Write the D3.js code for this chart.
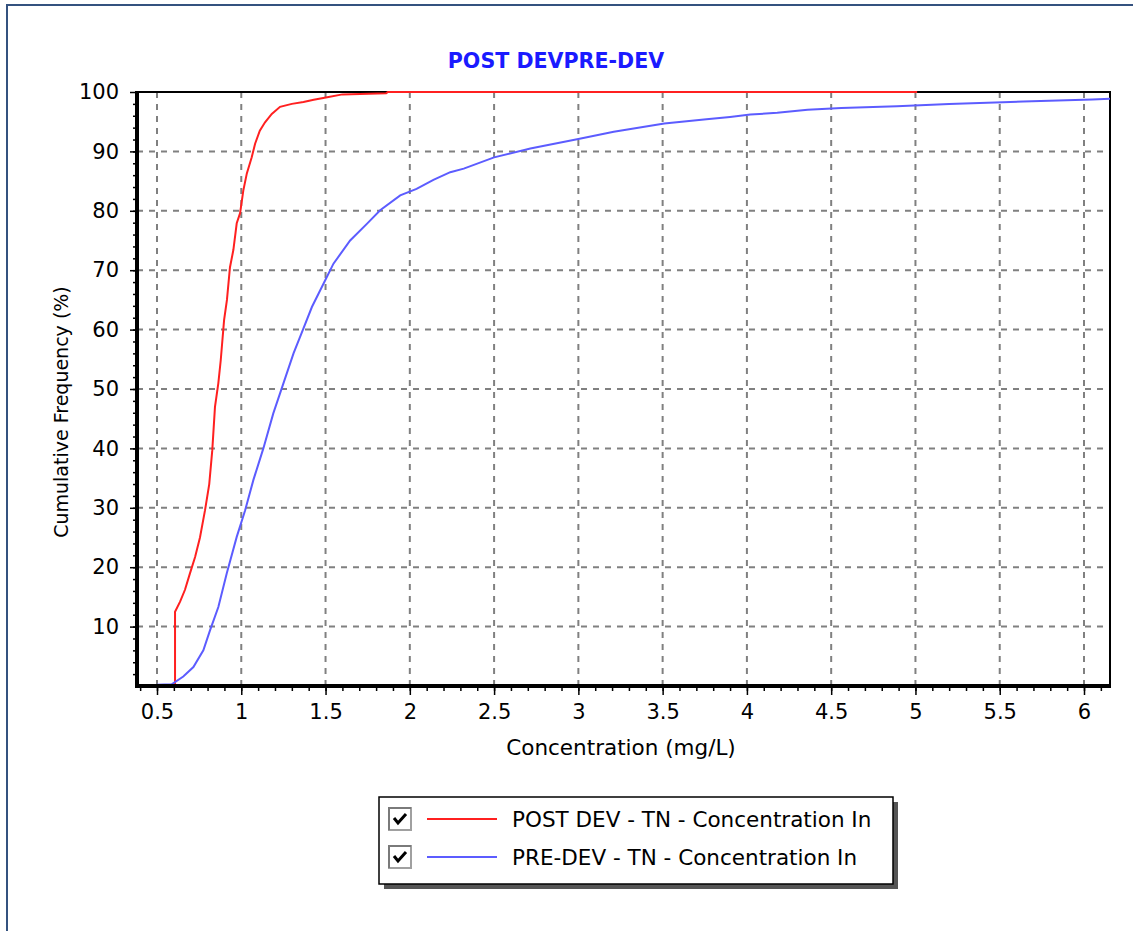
<!DOCTYPE html>
<html>
<head>
<meta charset="utf-8">
<script src="https://cdn.jsdelivr.net/npm/d3@7/dist/d3.min.js"></script>
<style>
	body { margin: 0; background: #fff; }
	svg { display: block; font-family: "DejaVu Sans", sans-serif; }
</style>
</head>
<body>
<svg id="chart" width="1133" height="931"></svg>
<script>
// chart values
var chartTitle = "POST DEVPRE-DEV";
var xLabel = "Concentration (mg/L)";
var yLabel = "Cumulative Frequency (%)";
var seriesNames = ["POST DEV - TN - Concentration In", "PRE-DEV - TN - Concentration In"];
var seriesColors = ["#ff2020", "#5c5cff"];

var xTicks = [0.5, 1, 1.5, 2, 2.5, 3, 3.5, 4, 4.5, 5, 5.5, 6];
var yTicks = [10, 20, 30, 40, 50, 60, 70, 80, 90, 100];

// POST DEV : [concentration, cumulative %]
var postDev = [
	[0.607, 0], [0.607, 12.5], [0.637, 14.2], [0.666, 16.2], [0.696, 19], [0.726, 21.7],
	[0.755, 25], [0.785, 29.6], [0.81, 34], [0.828, 39.7], [0.844, 47], [0.864, 51],
	[0.878, 54.8], [0.898, 61.6], [0.915, 65], [0.933, 70.5], [0.953, 73.4], [0.973, 77.9],
	[0.993, 79.6], [1.012, 83.4], [1.033, 86.3], [1.062, 89], [1.082, 91.3], [1.11, 93.5],
	[1.141, 94.9], [1.181, 96.3], [1.23, 97.5], [1.30, 98], [1.369, 98.3], [1.43, 98.7],
	[1.51, 99.1], [1.60, 99.6], [1.86, 99.8], [1.87, 100], [5.01, 100]
];

// PRE-DEV : [concentration, cumulative %]
var preDev = [
	[0.5, 0.2], [0.587, 0.3], [0.656, 1.6], [0.716, 3.2], [0.775, 6], [0.815, 9.4],
	[0.864, 13.3], [0.914, 19], [0.973, 25.1], [1.023, 29.6], [1.072, 34.7], [1.131, 40],
	[1.19, 45.9], [1.24, 50.1], [1.31, 56], [1.369, 60.2], [1.419, 63.8], [1.498, 68.3],
	[1.547, 71.1], [1.646, 75], [1.745, 77.8], [1.824, 80.1], [1.943, 82.6], [2.04, 83.7],
	[2.14, 85.2], [2.24, 86.5], [2.32, 87.1], [2.50, 89], [2.715, 90.5], [3.0, 92.1],
	[3.21, 93.3], [3.51, 94.7], [3.76, 95.4], [3.90, 95.8], [4.02, 96.2], [4.18, 96.5],
	[4.36, 97], [4.56, 97.3], [4.89, 97.6], [5.20, 98], [5.64, 98.4], [6.05, 98.75], [6.2, 98.9]
];

var series = [postDev, preDev];

var svg = d3.select("#chart");
var plot = { left: 137, top: 92, right: 1110, bottom: 686 };

// outer frame
svg.append("path")
	.attr("d", "M7,931V5H1133")
	.attr("fill", "none")
	.attr("stroke", "#34527f")
	.attr("stroke-width", 2);

var x = d3.scaleLinear()
	.domain([0.5 - 20 / 168.55, 6 + 26 / 168.55])
	.range([plot.left, plot.right]);

var y = d3.scaleLinear()
	.domain([0, 100])
	.range([plot.bottom, plot.top]);

// grid
var grid = svg.append("g")
	.attr("stroke", "#808080")
	.attr("stroke-width", 2)
	.attr("stroke-dasharray", "6,6");

grid.selectAll(".vgrid")
	.data(xTicks)
	.enter().append("line")
	.attr("x1", x).attr("x2", x)
	.attr("y1", plot.top).attr("y2", plot.bottom);

grid.selectAll(".hgrid")
	.data(yTicks.filter(function(d){ return d < 100; }))
	.enter().append("line")
	.attr("x1", plot.left).attr("x2", plot.right)
	.attr("y1", y).attr("y2", y);

// minor ticks
var xMinor = d3.range(4, 62).map(function(i){ return i / 10; })
	.filter(function(d){ return x(d) >= plot.left && x(d) <= plot.right; });
var yMinor = d3.range(2, 100, 2);

svg.append("g")
	.attr("transform", "translate(0," + plot.bottom + ")")
	.call(d3.axisBottom(x).tickValues(xMinor).tickSize(5).tickFormat(""))
	.call(function(g){ g.select(".domain").remove(); })
	.selectAll("line").attr("stroke", "#000").attr("stroke-width", 1.5);

svg.append("g")
	.attr("transform", "translate(" + plot.left + ",0)")
	.call(d3.axisLeft(y).tickValues(yMinor).tickSize(4).tickFormat(""))
	.call(function(g){ g.select(".domain").remove(); })
	.selectAll("line").attr("stroke", "#000").attr("stroke-width", 1.5);

// major ticks + labels
var xAxis = svg.append("g")
	.attr("transform", "translate(0," + plot.bottom + ")")
	.call(d3.axisBottom(x).tickValues(xTicks).tickSize(9).tickPadding(9).tickFormat(d3.format("")));
xAxis.select(".domain").remove();
xAxis.selectAll("line").attr("stroke", "#000").attr("stroke-width", 1.5);
xAxis.selectAll("text").attr("font-size", 21).attr("fill", "#000")
	.attr("font-family", "DejaVu Sans, sans-serif");

var yAxis = svg.append("g")
	.attr("transform", "translate(" + plot.left + ",0)")
	.call(d3.axisLeft(y).tickValues(yTicks).tickSize(7).tickPadding(11));
yAxis.select(".domain").remove();
yAxis.selectAll("line").attr("stroke", "#000").attr("stroke-width", 1.5);
yAxis.selectAll("text").attr("font-size", 21).attr("fill", "#000")
	.attr("font-family", "DejaVu Sans, sans-serif");

// curves
svg.append("clipPath").attr("id", "clip")
	.append("rect")
	.attr("x", plot.left).attr("y", plot.top - 2)
	.attr("width", plot.right - plot.left).attr("height", plot.bottom - plot.top + 2);

var line = d3.line()
	.x(function(d){ return x(d[0]); })
	.y(function(d){ return y(d[1]); });

// frame: thin top / right
svg.append("path")
	.attr("d", "M" + plot.left + "," + plot.top + "H" + plot.right + "V" + plot.bottom)
	.attr("fill", "none").attr("stroke", "#000").attr("stroke-width", 2);

svg.append("g").attr("clip-path", "url(#clip)")
	.selectAll(".curve")
	.data(series)
	.enter().append("path")
	.attr("class", "curve")
	.attr("d", line)
	.attr("fill", "none")
	.attr("stroke", function(d, i){ return seriesColors[i]; })
	.attr("stroke-width", 2);

// frame: thick left / bottom
svg.append("path")
	.attr("d", "M" + plot.left + "," + (plot.top - 1) + "V" + plot.bottom + "H" + (plot.right + 1))
	.attr("fill", "none").attr("stroke", "#000").attr("stroke-width", 4);

// title and axis labels
svg.append("text")
	.attr("x", 556).attr("y", 68)
	.attr("text-anchor", "middle")
	.attr("font-size", 20.6).attr("font-weight", "bold")
	.attr("fill", "#1a1aff")
	.text(chartTitle);

svg.append("text")
	.attr("x", 621).attr("y", 755)
	.attr("text-anchor", "middle")
	.attr("font-size", 21.5)
	.text(xLabel);

svg.append("text")
	.attr("transform", "translate(68,412) rotate(-90)")
	.attr("text-anchor", "middle")
	.attr("font-size", 19)
	.text(yLabel);

// legend
var legend = svg.append("g").attr("transform", "translate(379,797)");
legend.append("rect")
	.attr("x", 5).attr("y", 5).attr("width", 514).attr("height", 87)
	.attr("fill", "#555");
legend.append("rect")
	.attr("x", 0).attr("y", 0).attr("width", 514).attr("height", 87)
	.attr("fill", "#fff").attr("stroke", "#000").attr("stroke-width", 1.5);

var items = legend.selectAll(".item")
	.data(seriesNames)
	.enter().append("g")
	.attr("class", "item")
	.attr("transform", function(d, i){ return "translate(0," + (11 + i * 38) + ")"; });

items.append("rect")
	.attr("x", 10).attr("y", 0).attr("width", 22).attr("height", 22)
	.attr("fill", "#fff").attr("stroke", "#a0a0a0").attr("stroke-width", 2);
items.append("path")
	.attr("d", "M10,22V0H32").attr("fill", "none").attr("stroke", "#7a7a7a").attr("stroke-width", 2);
items.append("path")
	.attr("d", "M15,10l4,5l8,-9")
	.attr("fill", "none").attr("stroke", "#000").attr("stroke-width", 3);
items.append("line")
	.attr("x1", 48).attr("x2", 118).attr("y1", 11).attr("y2", 11)
	.attr("stroke", function(d, i){ return seriesColors[i]; })
	.attr("stroke-width", 2);
items.append("text")
	.attr("x", 133).attr("y", 19)
	.attr("font-size", 21.5)
	.text(function(d){ return d; });
</script>
</body>
</html>
